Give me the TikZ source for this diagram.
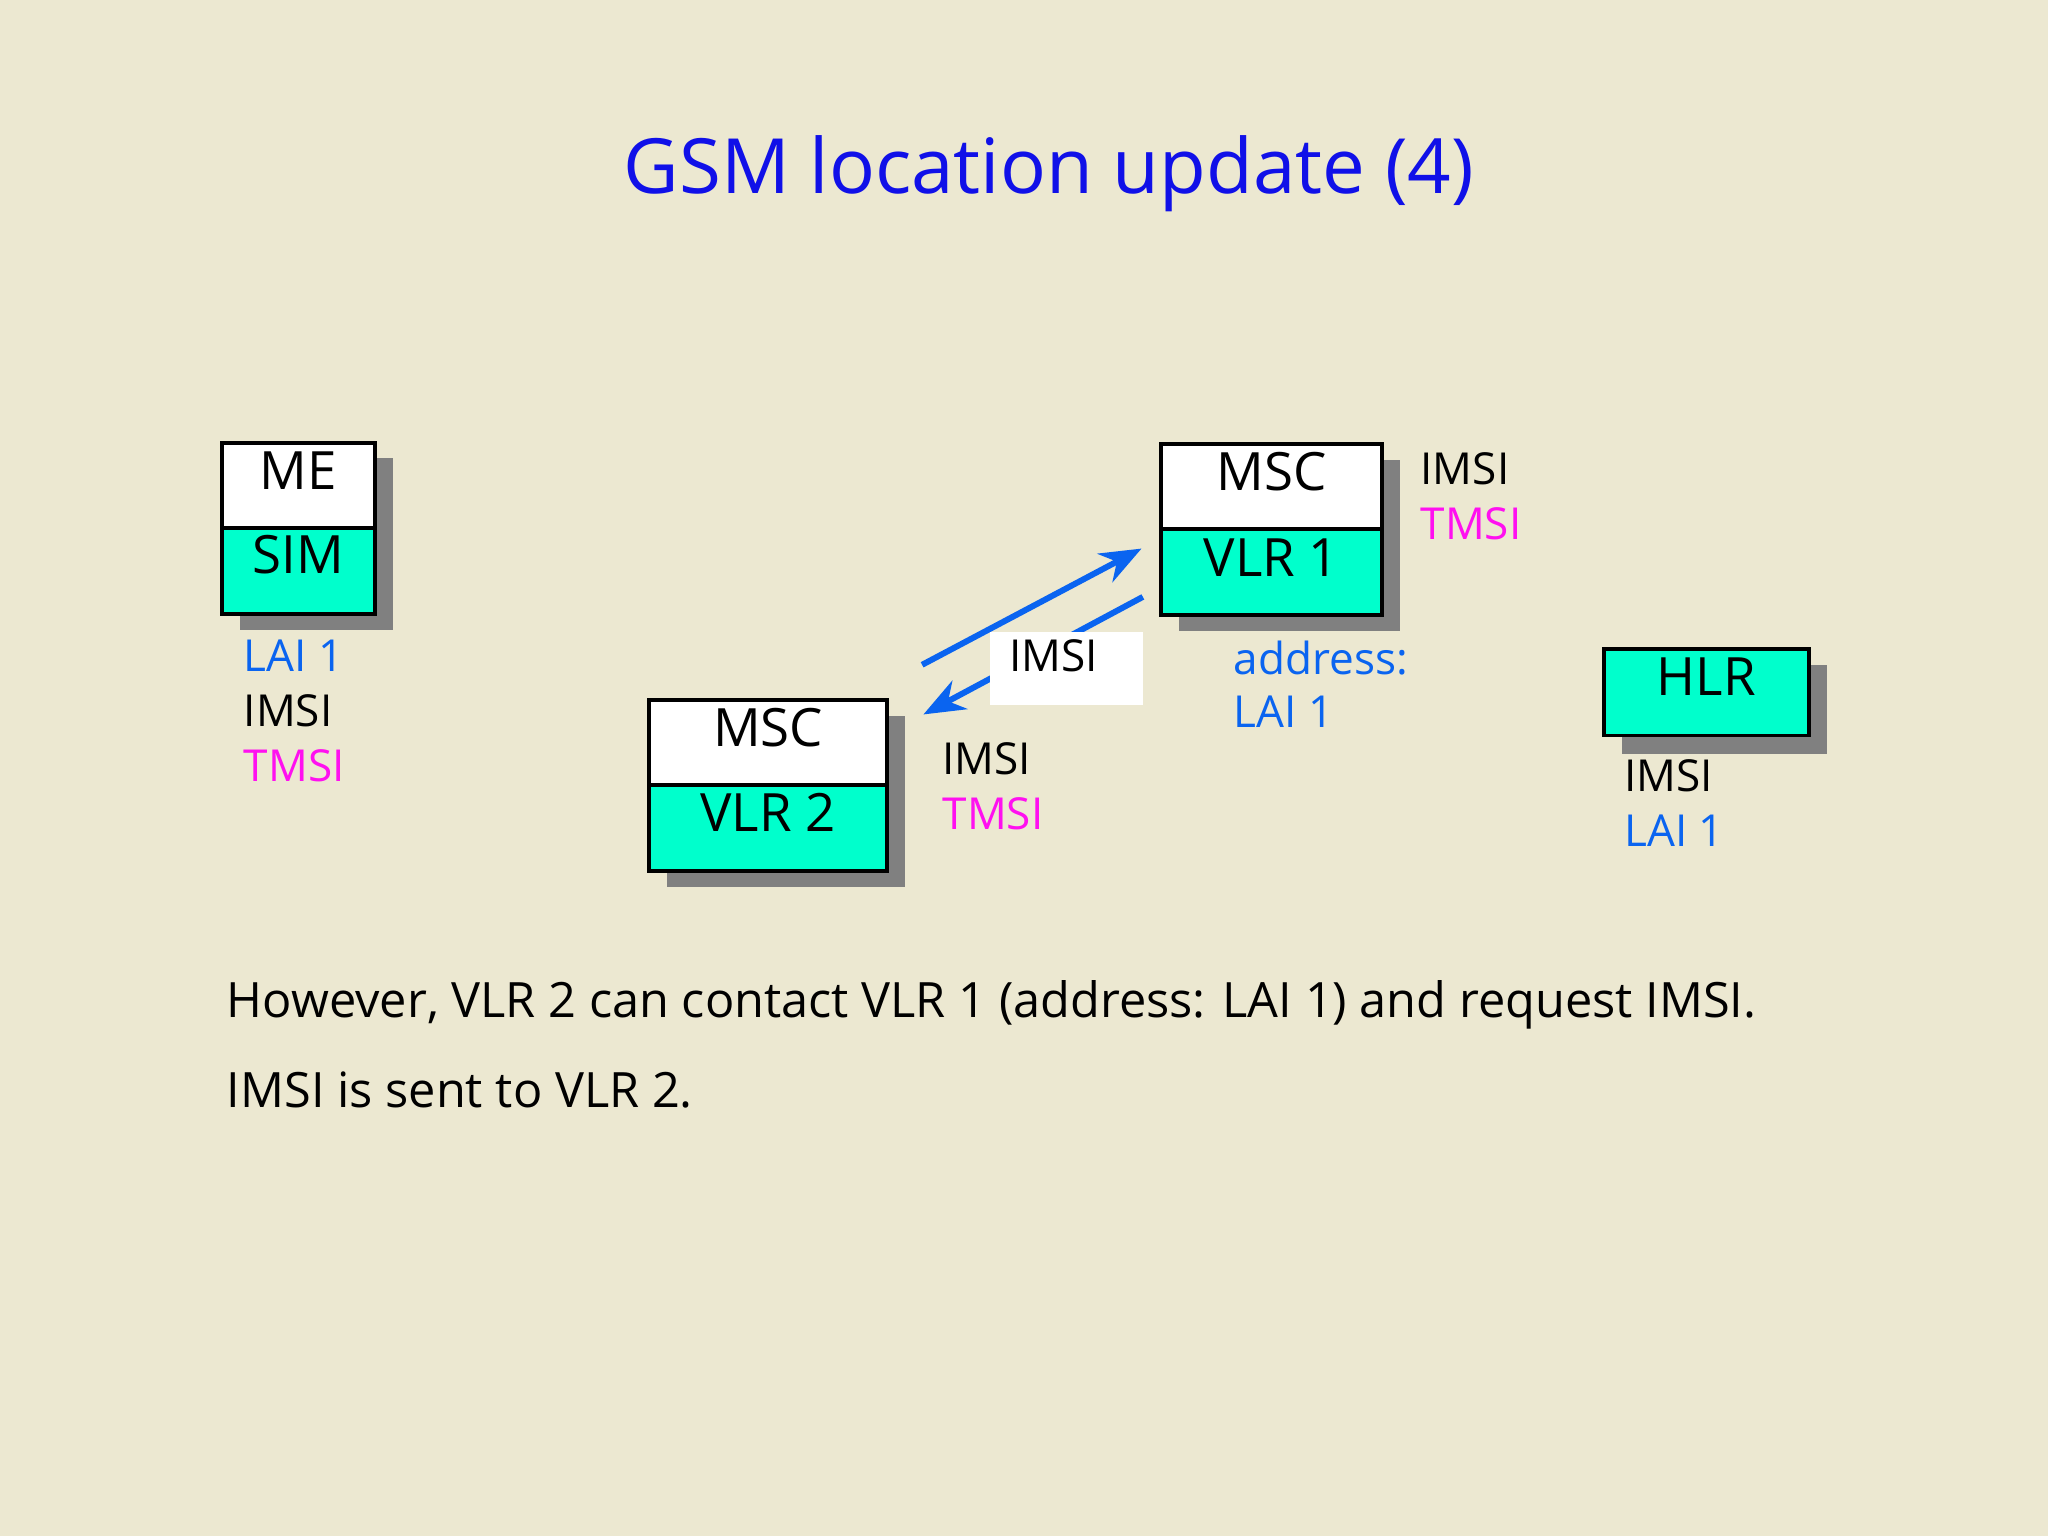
\documentclass[tikz,border=0pt]{standalone}
\usepackage{fontspec}
\usetikzlibrary{arrows.meta}
\setmainfont{Open Sans}
\definecolor{bg}{HTML}{ECE8D1}
\definecolor{cy}{HTML}{00FFCC}
\definecolor{lb}{HTML}{0A64F0}
\definecolor{mg}{HTML}{FF10F0}
\definecolor{tb}{HTML}{1010E8}
\definecolor{sh}{HTML}{808080}
\begin{document}
\begin{tikzpicture}[x=0.01cm,y=-0.01cm,
  lbl/.style={anchor=north west,inner sep=0,font=\fontsize{9.6}{11}\selectfont},
  boxlbl/.style={font=\fontsize{11.5}{13}\selectfont},
  body/.style={anchor=north west,inner sep=0,font=\fontsize{10.6}{13}\selectfont},
  arr/.style={draw=lb,line width=1.3pt,-{Stealth[length=9pt,width=7pt]}}]
\fill[bg] (0,0) rectangle (1568,1176);
\node[text=tb,font=\fontsize{16.6}{20}\selectfont] (title) at (803,133) {GSM location update (4)};
% boxes: shadow, top, bottom
\newcommand\twobox[6]{%
  \fill[sh] (#1+14,#3+12) rectangle (#2+14,#5+12);
  \filldraw[fill=white,draw=black,line width=0.8pt] (#1,#3) rectangle (#2,#4);
  \filldraw[fill=cy,draw=black,line width=0.8pt] (#1,#4) rectangle (#2,#5);}
\twobox{170}{287}{339}{404}{470}{}
\node[boxlbl] (me) at (228.5,360) {ME};
\node[boxlbl] (sim) at (228.5,425) {SIM};
\twobox{889}{1058}{340}{405}{471}{}
\node[boxlbl] (msc1) at (973.5,361) {MSC};
\node[boxlbl] (vlr1) at (973.5,427) {VLR 1};
\twobox{497}{679}{536}{601}{667}{}
\node[boxlbl] (msc2) at (588,557) {MSC};
\node[boxlbl] (vlr2) at (588,622) {VLR 2};
\fill[sh] (1242,509) rectangle (1399,577);
\filldraw[fill=cy,draw=black,line width=0.8pt] (1228,497) rectangle (1385,563);
\node[boxlbl] (hlr) at (1306.5,518) {HLR};
% labels
\node[lbl,text=lb] (l1) at (186,489) {LAI 1};
\node[lbl] (l2) at (186,531) {IMSI};
\node[lbl,text=mg] (l3) at (186,573) {TMSI};
\node[lbl] (r1) at (1087,346) {IMSI};
\node[lbl,text=mg] (r2) at (1087,388) {TMSI};
\node[lbl,text=lb] (a1) at (944,490) {address:};
\node[lbl,text=lb] (a2) at (944,532) {LAI 1};
\node[lbl] (v1) at (721,568) {IMSI};
\node[lbl,text=mg] (v2) at (721,610) {TMSI};
\node[lbl] (h1) at (1243,581) {IMSI};
\node[lbl,text=lb] (h2) at (1243,623) {LAI 1};
% arrows
\coordinate (p1) at (706,509); \coordinate (p2) at (874,420);
\coordinate (q1) at (875,457); \coordinate (q2) at (707,547);
\draw[arr] (p1) -- (p2);
\draw[arr] (q1) -- (q2);
\fill[white] (758,484) rectangle (875,540);
\node[lbl] (im) at (772,489) {IMSI};
\node[body] (t1) at (173,750) {However, VLR 2 can contact VLR 1 (address: LAI 1) and request IMSI.};
\node[body] (t2) at (173,820) {IMSI is sent to VLR 2.};
\end{tikzpicture}
\end{document}
